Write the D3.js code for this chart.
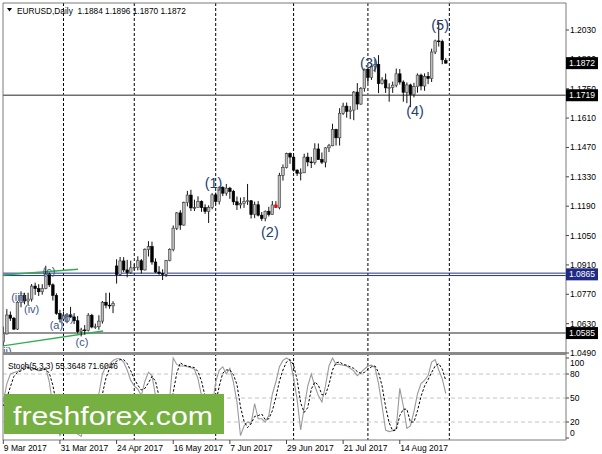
<!DOCTYPE html>
<html><head><meta charset="utf-8">
<script src="https://cdn.jsdelivr.net/npm/d3@7"></script>
<style>
body{margin:0;background:#fff}
svg{display:block}
text{font-family:"Liberation Sans",Arial,sans-serif}
</style>
</head><body>
<svg id="c" width="602" height="454"></svg>
<script>
// ---------------- DATA ----------------
const dates = [
"2017-03-09","2017-03-10","2017-03-13","2017-03-14","2017-03-15","2017-03-16","2017-03-17","2017-03-20","2017-03-21","2017-03-22","2017-03-23","2017-03-24","2017-03-27","2017-03-28","2017-03-29","2017-03-30","2017-03-31",
"2017-04-03","2017-04-04","2017-04-05","2017-04-06","2017-04-07","2017-04-10","2017-04-11","2017-04-12","2017-04-13","2017-04-14","2017-04-17","2017-04-18","2017-04-19","2017-04-20","2017-04-21","2017-04-24","2017-04-25","2017-04-26","2017-04-27","2017-04-28",
"2017-05-01","2017-05-02","2017-05-03","2017-05-04","2017-05-05","2017-05-08","2017-05-09","2017-05-10","2017-05-11","2017-05-12","2017-05-15","2017-05-16","2017-05-17","2017-05-18","2017-05-19","2017-05-22","2017-05-23","2017-05-24","2017-05-25","2017-05-26","2017-05-29","2017-05-30","2017-05-31",
"2017-06-01","2017-06-02","2017-06-05","2017-06-06","2017-06-07","2017-06-08","2017-06-09","2017-06-12","2017-06-13","2017-06-14","2017-06-15","2017-06-16","2017-06-19","2017-06-20","2017-06-21","2017-06-22","2017-06-23","2017-06-26","2017-06-27","2017-06-28","2017-06-29","2017-06-30",
"2017-07-03","2017-07-04","2017-07-05","2017-07-06","2017-07-07","2017-07-10","2017-07-11","2017-07-12","2017-07-13","2017-07-14","2017-07-17","2017-07-18","2017-07-19","2017-07-20","2017-07-21","2017-07-24","2017-07-25","2017-07-26","2017-07-27","2017-07-28","2017-07-31",
"2017-08-01","2017-08-02","2017-08-03","2017-08-04","2017-08-07","2017-08-08","2017-08-09","2017-08-10","2017-08-11","2017-08-14","2017-08-15","2017-08-16","2017-08-17","2017-08-18","2017-08-21","2017-08-22","2017-08-23","2017-08-24","2017-08-25","2017-08-28","2017-08-29","2017-08-30","2017-08-31"];

const open = [
1.0543,1.0581,1.0671,1.0656,1.0604,1.0732,1.0765,1.0738,1.0747,1.0809,1.0797,1.0782,1.0797,1.0866,1.0815,1.0765,1.0678,
1.0652,1.0667,1.0672,1.0662,1.0644,1.0592,1.0600,1.0598,1.0670,1.0614,1.0615,1.0642,1.0732,1.0718,1.0715,1.0905,1.0864,1.0929,1.0886,1.0873,
1.0896,1.0899,1.0930,1.0886,1.0983,1.0997,1.0924,1.0876,1.0869,1.0865,1.0931,1.0983,1.1085,1.1158,1.1100,1.1207,1.1243,1.1182,1.1183,1.1212,1.1183,1.1165,1.1184,
1.1244,1.1212,1.1280,1.1252,1.1276,1.1260,1.1211,1.1196,1.1202,1.1212,1.1216,1.1150,1.1197,1.1147,1.1131,1.1166,1.1150,1.1196,1.1183,1.1336,1.1374,1.1441,
1.1424,1.1362,1.1347,1.1349,1.1424,1.1401,1.1398,1.1463,1.1412,1.1400,1.1468,1.1478,1.1556,1.1516,1.1633,1.1667,1.1642,1.1648,1.1734,1.1677,1.1752,
1.1843,1.1803,1.1858,1.1866,1.1774,1.1792,1.1754,1.1756,1.1767,1.1821,1.1782,1.1733,1.1768,1.1723,1.1760,1.1815,1.1763,1.1809,1.1799,1.1925,1.1978,1.1975,1.1884];
const high = [
1.0616,1.0699,1.0688,1.0662,1.0737,1.0784,1.0777,1.0777,1.0819,1.0825,1.0818,1.0818,1.0906,1.0874,1.0822,1.0775,1.0696,
1.0688,1.0680,1.0710,1.0680,1.0666,1.0610,1.0623,1.0680,1.0677,1.0630,1.0670,1.0738,1.0777,1.0778,1.0737,1.0937,1.0948,1.0947,1.0934,1.0930,
1.0913,1.0951,1.0938,1.0989,1.1023,1.1021,1.0941,1.0904,1.0889,1.0934,1.0989,1.1098,1.1162,1.1171,1.1212,1.1263,1.1268,1.1221,1.1237,1.1218,1.1199,1.1194,1.1252,
1.1255,1.1285,1.1285,1.1296,1.1282,1.1268,1.1236,1.1231,1.1234,1.1296,1.1219,1.1212,1.1214,1.1162,1.1169,1.1187,1.1214,1.1214,1.1349,1.1389,1.1445,1.1446,
1.1430,1.1366,1.1370,1.1440,1.1445,1.1425,1.1490,1.1489,1.1446,1.1471,1.1487,1.1583,1.1559,1.1657,1.1683,1.1684,1.1667,1.1739,1.1777,1.1758,1.1846,
1.1845,1.1868,1.1891,1.1910,1.1805,1.1822,1.1776,1.1784,1.1846,1.1844,1.1790,1.1780,1.1774,1.1778,1.1823,1.1822,1.1823,1.1830,1.1941,1.1984,1.2070,1.1984,1.1896];
const low = [
1.0525,1.0578,1.0643,1.0599,1.0600,1.0708,1.0722,1.0717,1.0735,1.0767,1.0762,1.0768,1.0794,1.0805,1.0740,1.0672,1.0636,
1.0643,1.0632,1.0658,1.0628,1.0583,1.0569,1.0578,1.0593,1.0608,1.0605,1.0601,1.0630,1.0703,1.0701,1.0680,1.0821,1.0858,1.0876,1.0851,1.0867,
1.0883,1.0884,1.0869,1.0883,1.0950,1.0911,1.0872,1.0863,1.0838,1.0853,1.0927,1.0975,1.1076,1.1077,1.1097,1.1189,1.1167,1.1167,1.1194,1.1163,1.1153,1.1110,1.1175,
1.1198,1.1198,1.1238,1.1240,1.1225,1.1196,1.1172,1.1179,1.1182,1.1196,1.1131,1.1133,1.1141,1.1120,1.1118,1.1141,1.1149,1.1181,1.1175,1.1312,1.1370,1.1392,
1.1355,1.1334,1.1313,1.1348,1.1380,1.1372,1.1388,1.1410,1.1391,1.1375,1.1448,1.1476,1.1479,1.1479,1.1625,1.1612,1.1605,1.1600,1.1650,1.1673,1.1736,
1.1777,1.1792,1.1829,1.1729,1.1770,1.1730,1.1688,1.1730,1.1757,1.1770,1.1688,1.1681,1.1662,1.1709,1.1731,1.1742,1.1740,1.1772,1.1782,1.1915,1.1951,1.1867,1.1870];
const close = [
1.0581,1.0671,1.0656,1.0604,1.0732,1.0765,1.0738,1.0747,1.0809,1.0797,1.0782,1.0797,1.0866,1.0815,1.0765,1.0678,1.0652,
1.0667,1.0672,1.0662,1.0644,1.0592,1.0600,1.0598,1.0670,1.0614,1.0615,1.0642,1.0732,1.0718,1.0715,1.0726,1.0864,1.0929,1.0886,1.0873,1.0896,
1.0899,1.0930,1.0886,1.0983,1.0997,1.0924,1.0876,1.0869,1.0865,1.0931,1.0983,1.1085,1.1158,1.1100,1.1207,1.1243,1.1182,1.1183,1.1212,1.1183,1.1165,1.1184,1.1244,
1.1212,1.1280,1.1252,1.1276,1.1260,1.1211,1.1196,1.1202,1.1212,1.1216,1.1150,1.1197,1.1147,1.1131,1.1166,1.1150,1.1196,1.1183,1.1336,1.1374,1.1441,1.1424,
1.1362,1.1347,1.1349,1.1424,1.1401,1.1398,1.1463,1.1412,1.1400,1.1468,1.1478,1.1556,1.1516,1.1633,1.1667,1.1642,1.1648,1.1734,1.1677,1.1752,1.1843,
1.1803,1.1858,1.1866,1.1774,1.1792,1.1754,1.1756,1.1767,1.1821,1.1782,1.1733,1.1768,1.1723,1.1760,1.1815,1.1763,1.1809,1.1799,1.1925,1.1978,1.1975,1.1888,1.1872];

const stochK = [45,68,80,82,83,86,90,88,85,86,84,85,88,70,40,15,3,10,20,18,10,5,2,20,40,25,30,55,80,90,92,97,99,99,95,85,72,65,61,53,71,82,78,53,25,15,20,50,100,92,90,90,89,88,86,74,53,30,20,40,70,85,89,80,87,70,45,3,15,20,18,43,24,24,20,28,55,70,89,97,100,97,75,48,10,38,65,80,65,53,45,65,90,100,92,92,91,90,87,84,78,82,86,90,91,88,68,40,10,8,9,12,62,40,12,15,33,55,68,72,78,95,98,85,74,55.36];
const stochD = [40,50,64,77,82,84,86,88,88,86,85,85,86,81,66,42,19,9,11,16,16,11,6,9,21,28,32,37,55,75,87,93,96,98,98,93,84,74,66,60,62,69,77,71,52,31,20,28,57,81,94,91,90,89,88,83,71,52,34,30,43,65,81,85,85,79,67,39,21,13,18,27,28,30,23,24,34,51,71,85,95,98,91,73,44,32,38,61,70,66,54,54,67,85,94,95,92,91,89,87,83,81,82,86,89,90,82,65,39,19,9,10,28,36,36,20,20,34,52,65,73,82,90,93,86,71.6];

const priceTicks = [1.2030,1.1890,1.1750,1.1610,1.1470,1.1330,1.1190,1.1050,1.0910,1.0770,1.0630,1.0490];
const stochTicks = [100,80,50,20,0];
const stochLevels = [80,50,20];
const dateTickIdx = [0,16,32,48,64,80,96,112];
const dateTickLabels = ["9 Mar 2017","31 Mar 2017","24 Apr 2017","16 May 2017","7 Jun 2017","29 Jun 2017","21 Jul 2017","14 Aug 2017"];
const monthStarts = ["2017-04-03","2017-05-01","2017-06-01","2017-07-03","2017-08-01","2017-09-01"];
const levelPrices = [1.1719,1.0865,1.0585];
const lastPrice = 1.1872;
const title = "EURUSD,Daily  1.1884 1.1896 1.1870 1.1872";
const stochTitle = "Stoch(5,3,3) 55.3648 71.6046";
const waveText = ["(1)","(2)","(3)","(4)","(5)"];
const waveIdx  = [59.4,75.3,103.3,116.3,123.4];
const wavePrice= [1.1300,1.1067,1.1873,1.1644,1.2054];
const subText  = ["(ii)","(iii)","(iv)","(c)","(a)","(b)","(c)"];
const subIdx   = [0.6,4.3,8.0,12.9,15.0,18.0,22.2];
const subPrice = [1.0498,1.0757,1.0700,1.0881,1.0623,1.0657,1.0542];
const trendUpper = {i:[-0.1,21.1], p:[1.0862,1.0889]};
const trendLower = {i:[-0.1,28.2], p:[1.0524,1.0595]};

// ---------------- LAYOUT ----------------
const L=3, R=566, T=3, MB=352, ST=355, SB=440;
const svg = d3.select("#c");
const x = d3.scaleLinear().domain([0,125]).range([3.3, 3.3+125*3.54]);
const y = d3.scaleLinear().domain([1.0490,1.2030]).range([353,30]);
const ys = d3.scaleLinear().domain([0,100]).range([438,358]);
const idxOf = d => dates.indexOf(d);

const defs = svg.append("defs");
defs.append("clipPath").attr("id","cm").append("rect").attr("x",L).attr("y",T).attr("width",R-L).attr("height",MB-T);
defs.append("clipPath").attr("id","cs").append("rect").attr("x",L).attr("y",ST).attr("width",R-L).attr("height",SB-ST);

svg.append("rect").attr("width",602).attr("height",454).attr("fill","#fff");

// month separators
const sepX = monthStarts.map((d,k)=> k<5 ? x(idxOf(d)) : x(125)+3.54);
svg.append("g").selectAll("line").data(sepX).join("line")
  .attr("x1",d=>d).attr("x2",d=>d).attr("y1",T).attr("y2",SB)
  .attr("stroke","#000").attr("stroke-width",1).attr("stroke-dasharray","3,2");

// stoch levels
svg.append("g").selectAll("line").data(stochLevels).join("line")
  .attr("x1",L).attr("x2",R).attr("y1",d=>ys(d)).attr("y2",d=>ys(d))
  .attr("stroke","#c4c4c4").attr("stroke-dasharray","4,3");

const gm = svg.append("g").attr("clip-path","url(#cm)");
// horizontal levels
gm.append("line").attr("x1",L).attr("x2",R).attr("y1",y(levelPrices[0])).attr("y2",y(levelPrices[0])).attr("stroke","#6e6e6e").attr("stroke-width",1.4);
gm.append("line").attr("x1",L).attr("x2",R).attr("y1",y(levelPrices[2])).attr("y2",y(levelPrices[2])).attr("stroke","#6e6e6e").attr("stroke-width",1.4);
[-1.2,1.2].forEach(o=>gm.append("line").attr("x1",L).attr("x2",R).attr("y1",y(levelPrices[1])+o).attr("y2",y(levelPrices[1])+o).attr("stroke","#27348b").attr("stroke-width",1));

// trendlines
[trendUpper,trendLower].forEach(t=>{
  gm.append("line").attr("x1",x(t.i[0])).attr("x2",x(t.i[1])).attr("y1",y(t.p[0])).attr("y2",y(t.p[1]))
    .attr("stroke","#2fae4e").attr("stroke-width",1.4);
});

// candles
const bars = dates.map((d,i)=>({i,o:open[i],h:high[i],l:low[i],c:close[i]}));
const cg = gm.append("g");
cg.selectAll("line").data(bars).join("line")
  .attr("x1",d=>x(d.i)).attr("x2",d=>x(d.i)).attr("y1",d=>y(d.h)).attr("y2",d=>y(d.l))
  .attr("stroke","#111").attr("stroke-width",1);
const bw = 2.6;
cg.selectAll("rect").data(bars).join("rect")
  .attr("x",d=>x(d.i)-bw/2).attr("width",bw)
  .attr("y",d=>y(Math.max(d.o,d.c)))
  .attr("height",d=>Math.max(0.8,Math.abs(y(d.o)-y(d.c))))
  .attr("fill",d=> dates[d.i]==="2017-06-26" ? "#e01010" : (d.c>=d.o ? "#bdbdbd" : "#000"))
  .attr("stroke",d=> dates[d.i]==="2017-06-26" ? "#e01010" : (d.c>=d.o ? "#3a3a3a" : "#000"))
  .attr("stroke-width",0.6);

// wave labels
gm.append("g").selectAll("text").data(waveText).join("text")
  .attr("x",(d,k)=>x(waveIdx[k])).attr("y",(d,k)=>y(wavePrice[k]))
  .attr("text-anchor","middle").attr("dominant-baseline","central")
  .attr("font-size",14.5).attr("fill","#25406f").text(d=>d);
gm.append("g").selectAll("text").data(subText).join("text")
  .attr("x",(d,k)=>x(subIdx[k])).attr("y",(d,k)=>y(subPrice[k]))
  .attr("text-anchor","middle").attr("dominant-baseline","central")
  .attr("font-size",11).attr("fill","#3a5589").text(d=>d);

// stochastic
const gs = svg.append("g").attr("clip-path","url(#cs)");
const line = d3.line().x((d,i)=>x(i)).y(d=>ys(d));
gs.append("path").attr("d",line(stochK)).attr("fill","none").attr("stroke","#9a9a9a").attr("stroke-width",1.1);
gs.append("path").attr("d",line(stochD)).attr("fill","none").attr("stroke","#000").attr("stroke-width",1).attr("stroke-dasharray","2.5,1.8");

// frames
const fr = svg.append("g").attr("fill","none").attr("stroke","#7a7a7a");
fr.append("line").attr("x1",L).attr("x2",R).attr("y1",T).attr("y2",T);
fr.append("line").attr("x1",L).attr("x2",L).attr("y1",T).attr("y2",SB);
fr.append("line").attr("x1",R).attr("x2",R).attr("y1",T).attr("y2",SB);
fr.append("line").attr("x1",L).attr("x2",R).attr("y1",SB).attr("y2",SB);
svg.append("rect").attr("x",L).attr("y",MB).attr("width",R-L).attr("height",ST-MB).attr("fill","#8a8a8a");

// price axis
const pa = svg.append("g");
pa.selectAll("line").data(priceTicks).join("line")
  .attr("x1",R).attr("x2",R+3).attr("y1",d=>y(d)).attr("y2",d=>y(d)).attr("stroke","#444");
pa.selectAll("text").data(priceTicks).join("text")
  .attr("x",R+4).attr("y",d=>y(d)).attr("dominant-baseline","central")
  .attr("font-size",8.5).attr("fill","#000").text(d=>d.toFixed(4));
// stoch axis
const sa = svg.append("g");
sa.selectAll("line").data(stochTicks).join("line")
  .attr("x1",R).attr("x2",R+3).attr("y1",d=>ys(d)).attr("y2",d=>ys(d)).attr("stroke","#444");
sa.selectAll("text").data(stochTicks).join("text")
  .attr("x",R+4).attr("y",d=> d===100 ? ys(d)+5 : (d===0 ? ys(d)-5 : ys(d)))
  .attr("dominant-baseline","central").attr("font-size",8.5).attr("fill","#000").text(d=>d);

// price boxes
function box(p, fill){
  const yy = y(p);
  svg.append("rect").attr("x",R).attr("y",yy-6).attr("width",32).attr("height",12).attr("fill",fill);
  svg.append("text").attr("x",R+3).attr("y",yy).attr("dominant-baseline","central")
    .attr("font-size",8.5).attr("fill","#fff").text(p.toFixed(4));
}
box(lastPrice,"#000");
box(levelPrices[0],"#000");
box(levelPrices[1],"#1f2a86");
box(levelPrices[2],"#000");

// date axis
const da = svg.append("g");
da.selectAll("line").data(dateTickIdx).join("line")
  .attr("x1",d=>x(d)).attr("x2",d=>x(d)).attr("y1",SB).attr("y2",SB+4).attr("stroke","#444");
da.selectAll("text").data(dateTickIdx).join("text")
  .attr("x",d=>x(d)+0.5).attr("y",451).attr("font-size",8.5).attr("fill","#000")
  .text((d,k)=>dateTickLabels[k]);

// titles
svg.append("path").attr("d","M7,8 L12,8 L9.5,11.5 Z").attr("fill","#000");
svg.append("text").attr("x",17).attr("y",13.5).attr("font-size",8.3).attr("fill","#000").attr("xml:space","preserve").style("white-space","pre").text(title);
svg.append("text").attr("x",8).attr("y",368.5).attr("font-size",8.3).attr("fill","#000").text(stochTitle);

// watermark
svg.append("rect").attr("x",4).attr("y",394).attr("width",220).attr("height",40).attr("fill","#76b043");
svg.append("text").attr("x",13).attr("y",424.5).attr("font-family","'Open Sans',sans-serif")
  .attr("font-size",26).attr("fill","#fff").attr("textLength",200).attr("lengthAdjust","spacingAndGlyphs")
  .text("freshforex.com");
</script>
</body></html>
